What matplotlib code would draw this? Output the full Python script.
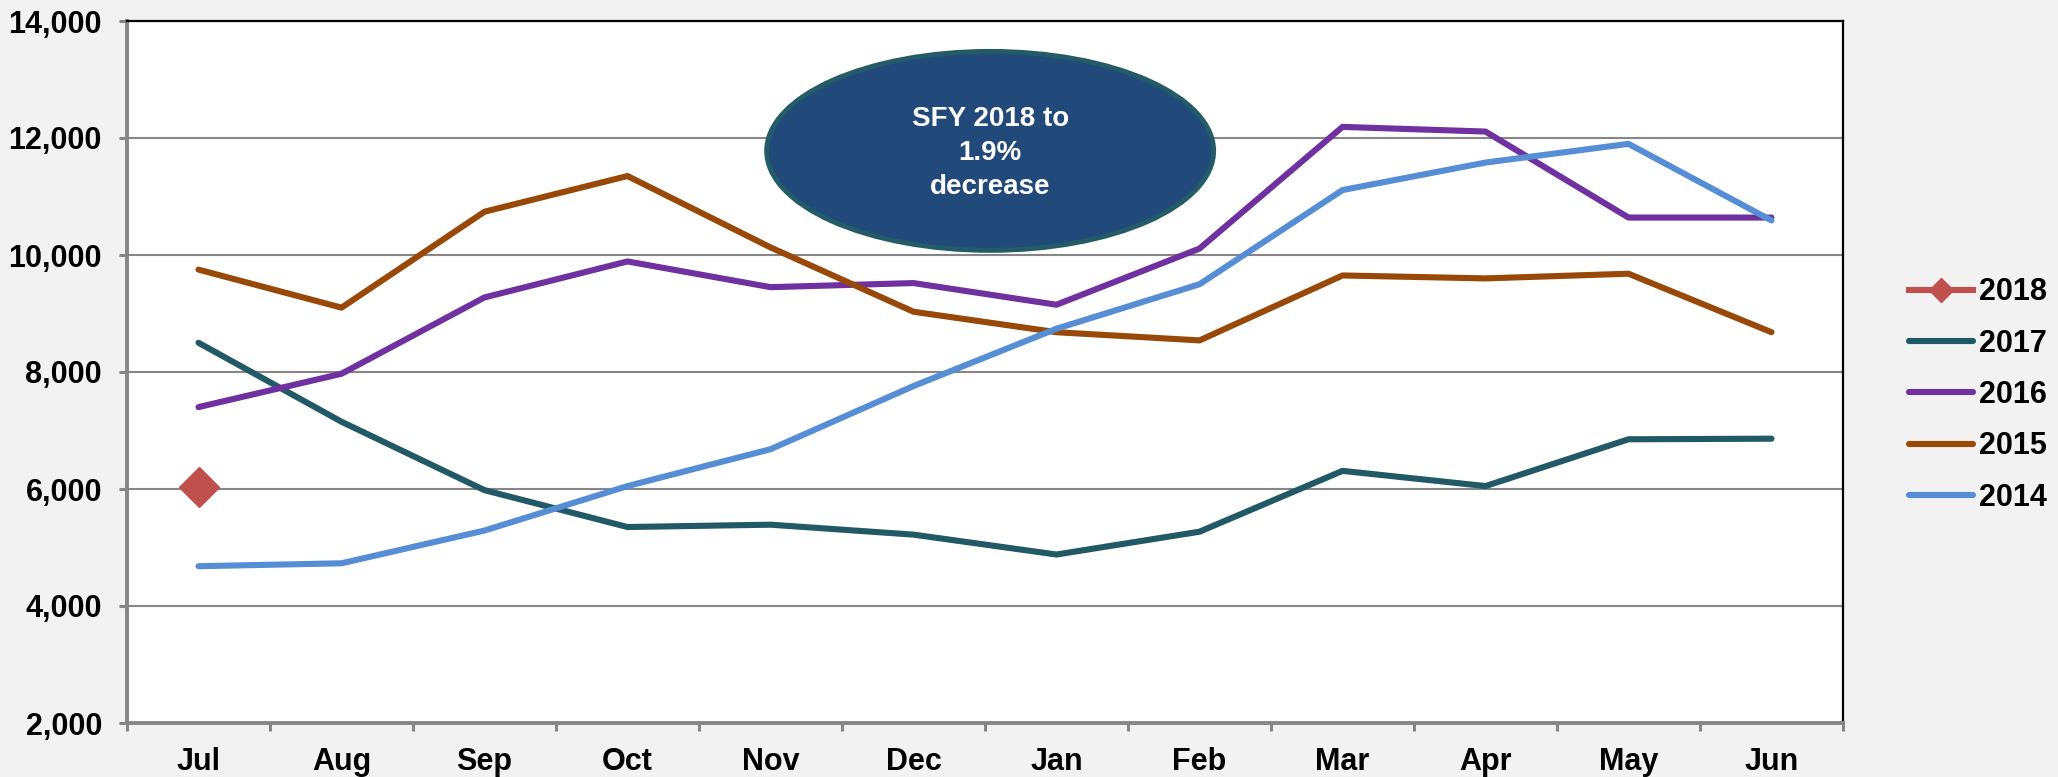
import matplotlib.pyplot as plt
from matplotlib.patches import Ellipse
import numpy as np

# Data
months = ['Jul', 'Aug', 'Sep', 'Oct', 'Nov', 'Dec', 'Jan', 'Feb', 'Mar', 'Apr', 'May', 'Jun']
y2018 = [6040]
y2017 = [8500, 7150, 5980, 5350, 5390, 5220, 4880, 5270, 6310, 6050, 6850, 6860]
y2016 = [7400, 7970, 9275, 9890, 9450, 9520, 9150, 10110, 12190, 12110, 10640, 10640]
y2015 = [9750, 9100, 10740, 11350, 10130, 9030, 8680, 8540, 9650, 9600, 9680, 8680]
y2014 = [4680, 4730, 5290, 6050, 6680, 7760, 8740, 9500, 11110, 11580, 11900, 10590]
yticks = [2000, 4000, 6000, 8000, 10000, 12000, 14000]
note = 'SFY 2018 to\n1.9%\ndecrease'

plt.rcParams['font.family'] = ['Liberation Sans', 'DejaVu Sans']
plt.rcParams['font.weight'] = 'bold'

fig = plt.figure(figsize=(20.58, 7.77), dpi=100, facecolor='#F2F2F2')
ax = fig.add_axes([127 / 2058, 1 - 723 / 777, (1843 - 127) / 2058, (723 - 21) / 777])
ax.set_facecolor('white')

x = np.arange(len(months)) + 0.5
lw = 4.4
ax.plot(x[:len(y2018)], y2018, color='#C0504D', lw=lw, marker='D', markersize=20,
        label='2018', zorder=3)
ax.plot(x, y2017, color='#215967', lw=lw, label='2017', zorder=3, solid_capstyle='round')
ax.plot(x, y2016, color='#7030A0', lw=lw, label='2016', zorder=3, solid_capstyle='round')
ax.plot(x, y2015, color='#984807', lw=lw, label='2015', zorder=3, solid_capstyle='round')
ax.plot(x, y2014, color='#558ED5', lw=lw, label='2014', zorder=3, solid_capstyle='round')

# Axes styling
ax.set_xlim(0, len(months))
ax.set_ylim(2000, 14000)
ax.set_yticks(yticks)
ax.set_yticklabels([f'{v:,}' for v in yticks], fontsize=22, fontweight='bold')
ax.set_xticks(np.arange(len(months) + 1))
ax.set_xticklabels([])
ax.set_xticks(x, minor=True)
ax.set_xticklabels(months, minor=True, fontsize=22, fontweight='bold')
ax.tick_params(axis='x', which='major', length=6, width=2.2, color='#868686', direction='out')
ax.tick_params(axis='x', which='minor', length=0, pad=17)
ax.tick_params(axis='y', length=6, width=2.2, color='#868686', direction='out', pad=12)
ax.grid(True, axis='y', color='#868686', lw=1.5, zorder=1)
ax.set_axisbelow(True)

for side in ['left', 'bottom']:
    ax.spines[side].set_color('#868686')
    ax.spines[side].set_linewidth(2.8)
for side in ['top', 'right']:
    ax.spines[side].set_color('black')
    ax.spines[side].set_linewidth(1.6)

# Annotation ellipse
ell = Ellipse((0.503, 0.815), 0.2605, 0.2835, transform=ax.transAxes,
              facecolor='#214A7B', edgecolor='#235B67', lw=3.5, zorder=5)
ax.add_patch(ell)
ax.text(0.503, 0.812, note, transform=ax.transAxes, ha='center', va='center',
        color='white', fontsize=20, fontweight='bold', linespacing=1.4, zorder=6)

# Legend
leg = fig.legend(loc='center left', bbox_to_anchor=(1897 / 2058, 1 - 395 / 777),
                 frameon=False, fontsize=22, handlelength=2.1, handletextpad=0.2,
                 labelspacing=0.7, borderaxespad=0)
for t in leg.get_texts():
    t.set_fontweight('bold')
leg.legend_handles[0].set_markersize(12)

plt.savefig('out.png', dpi=100, facecolor=fig.get_facecolor())
